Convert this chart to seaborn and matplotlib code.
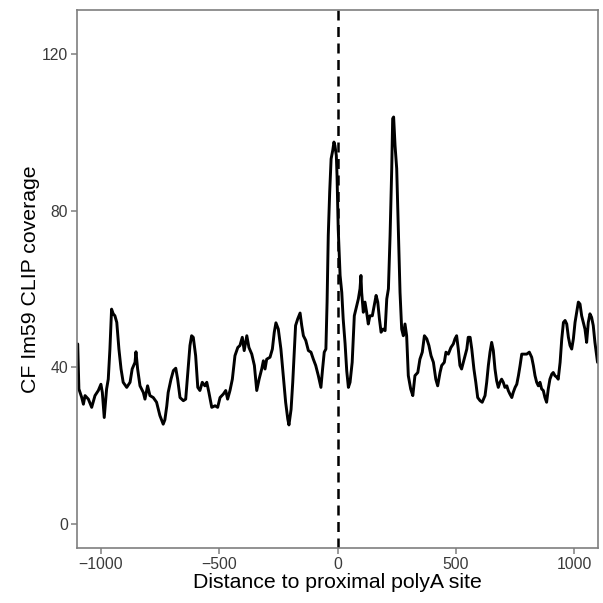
import numpy as np
import pandas as pd
import matplotlib
matplotlib.use("Agg")
import matplotlib.pyplot as plt
import seaborn as sns

position = [
    -1097, -1092, -1080, -1073, -1066, -1052, -1038, -1024, -1010, -999, -993, -985, -975, -968,
    -961, -954, -947, -940, -932, -923, -914, -905, -890, -876, -867, -855, -851, -844, -834,
    -820, -813, -802, -792, -778, -764, -750, -736, -729, -721, -715, -703, -693, -683, -675,
    -665, -651, -641, -633, -623, -616, -609, -599, -590, -581, -571, -560, -552, -543, -531,
    -517, -506, -496, -482, -472, -464, -454, -444, -433, -421, -412, -402, -394, -383, -374,
    -362, -351, -341, -331, -320, -313, -306, -299, -285, -275, -267, -260, -250, -239, -229,
    -219, -210, -205, -196, -189, -182, -177, -168, -158, -151, -144, -134, -123, -112, -102,
    -92, -81, -70, -63, -56, -49, -44, -39, -33, -27, -20, -15, -11, -5, -2, 3, 11, 18, 24,
    32, 39, 46, 53, 62, 67, 71, 81, 88, 95, 99, 102, 109, 116, 123, 130, 137, 147, 155, 163,
    170, 177, 184, 193, 201, 208, 215, 222, 229, 233, 237, 243, 250, 257, 264, 271, 278, 285,
    292, 299, 309, 318, 327, 339, 348, 358, 367, 377, 386, 395, 405, 415, 423, 433, 440, 451,
    458, 468, 479, 489, 496, 503, 510, 517, 524, 535, 546, 552, 560, 567, 576, 584, 592, 602,
    611, 623, 630, 637, 644, 651, 658, 665, 672, 679, 686, 693, 700, 707, 715, 721, 728, 736,
    742, 750, 757, 764, 771, 778, 785, 799, 810, 820, 827, 834, 841, 848, 855, 862, 869, 876,
    883, 890, 897, 905, 911, 918, 926, 932, 940, 947, 954, 961, 968, 975, 982, 989, 996, 1003,
    1010, 1017, 1024, 1031, 1038, 1045, 1052, 1059, 1066, 1073, 1080, 1087, 1098,
]
coverage = [
    45.9, 34.4, 32.2, 30.5, 32.7, 31.8, 29.7, 32.7, 34.0, 35.6, 33.5, 27.1, 34.4, 36.9,
    44.6, 54.8, 53.6, 53.1, 51.4, 44.6, 39.5, 36.1, 34.8, 36.1, 39.5, 41.2, 43.9, 39.5, 35.2,
    33.5, 31.8, 35.2, 32.7, 32.2, 31.0, 27.6, 25.4, 26.5, 30.0, 33.5, 36.9, 39.1, 39.7, 36.9,
    32.2, 31.4, 31.8, 37.8, 45.5, 48.0, 47.6, 42.9, 34.8, 34.0, 36.1, 35.2, 36.1, 33.5, 29.7,
    30.1, 29.7, 32.2, 33.1, 34.0, 31.8, 34.0, 36.9, 42.9, 45.0, 45.5, 47.6, 44.2, 48.0, 45.0,
    43.3, 40.4, 34.0, 36.9, 39.5, 41.6, 39.5, 42.0, 42.5, 44.6, 48.9, 51.3, 49.7, 44.6, 37.8,
    31.0, 26.7, 25.2, 29.2, 36.1, 44.6, 50.6, 52.3, 53.8, 50.6, 48.0, 46.8, 44.2, 43.8, 42.0,
    40.4, 37.8, 34.8, 39.5, 43.8, 44.6, 56.6, 73.6, 84.7, 93.2, 95.4, 97.5, 96.6, 94.1, 89.0,
    75.3, 63.4, 59.1, 52.3,
    46.0, 39.0, 34.8, 36.1, 41.2, 48.0, 53.1, 55.7, 57.4, 60.0, 63.4, 59.1, 54.0, 56.6, 54.0,
    51.0, 53.1, 53.1, 55.7, 58.3, 56.6, 52.3, 48.9, 49.7, 49.3, 57.4, 60.0, 73.6, 90.7, 103.5,
    103.9, 96.6, 90.7, 75.3, 59.1, 49.7, 48.0, 51.0, 48.0, 37.8, 34.4, 32.7, 37.8, 38.6, 42.0,
    43.8, 48.0, 47.2, 45.5, 42.9, 41.2, 36.9, 35.2, 38.6, 40.4, 41.2, 43.8, 43.3, 45.0, 45.9,
    47.2, 48.0, 44.6, 40.4, 39.5, 42.0, 44.6, 47.6, 47.6, 44.6, 39.5, 36.1, 32.2, 31.4, 31.0,
    32.7, 36.1, 40.4, 43.8, 46.3, 44.2, 39.5, 36.5, 34.8, 36.1, 36.9, 36.1, 34.8, 35.2, 34.0,
    33.1, 32.2, 33.5, 34.8, 35.6, 37.8, 40.4, 43.3, 43.3, 43.3, 43.8, 42.5, 40.4, 37.8, 36.1,
    35.2, 36.1, 34.4, 34.0, 32.2, 31.0, 34.4, 36.9, 38.2, 38.6, 37.8, 37.4, 36.9, 41.2, 47.2,
    51.4, 51.9, 51.0, 47.6, 45.5, 44.6, 47.2, 51.4, 54.0, 56.6, 56.1, 53.1, 51.4, 49.7, 46.3,
    51.4, 53.6, 52.7, 50.6, 46.3, 41.2,
]
x_ticks = [-1000, -500, 0, 500, 1000]
y_ticks = [0, 40, 80, 120]

sns.set_theme(style="white")
plt.rcParams["font.family"] = ["Liberation Sans", "DejaVu Sans"]

fig = plt.figure(figsize=(6.03, 6.03), dpi=100)
ax = fig.add_axes([77 / 603, 55 / 603, 521 / 603, 538 / 603])
df = pd.DataFrame({"position": position, "coverage": coverage})
sns.lineplot(data=df, x="position", y="coverage", ax=ax, color="black",
             lw=2.1, sort=False, estimator=None)
ax.axvline(0, color="black", lw=1.8, ls=(0, (4, 2.6)))
ax.set_xlim(-1100, 1100)
ax.set_ylim(-6.25, 131.25)
ax.set_xticks(x_ticks)
ax.set_yticks(y_ticks)
ax.set_xlabel("Distance to proximal polyA site", fontsize=15.3, color="black", labelpad=1)
ax.set_ylabel("CF Im59 CLIP coverage", fontsize=15.3, color="black", labelpad=1)
ax.tick_params(axis="both", bottom=True, left=True, labelsize=11.3, labelcolor="#3a3a3a",
               color="#7f7f7f", length=4, width=1.1, direction="out", pad=2.5)
for s in ax.spines.values():
    s.set_color("#7f7f7f")
    s.set_linewidth(1.2)
ax.grid(False)
fig.savefig("out.png", dpi=100)
